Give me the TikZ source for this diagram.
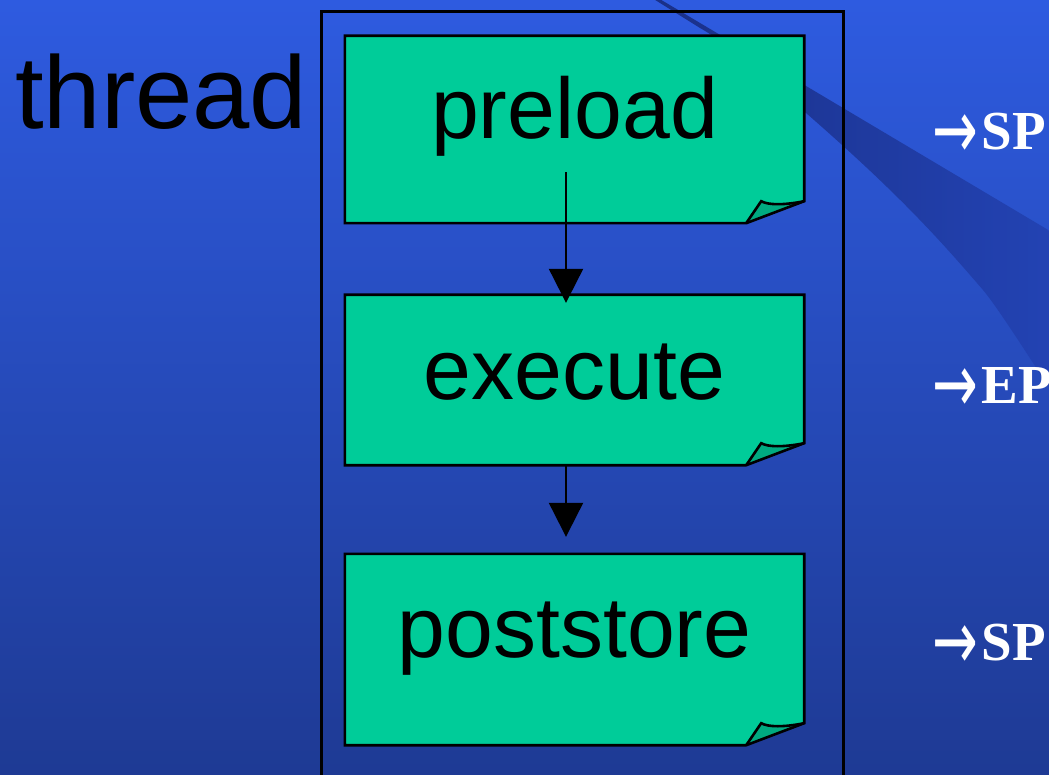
\documentclass[tikz,border=0pt]{standalone}
\usepackage{fontspec}
\setmainfont{Liberation Sans}
\newfontfamily\lserif{Liberation Serif}
\newfontfamily\dejavu{DejaVu Sans}
\usetikzlibrary{arrows.meta,calc}
\definecolor{bgtop}{HTML}{2E5BE0}
\definecolor{bgbot}{HTML}{1E3A94}
\definecolor{note}{HTML}{00CC99}
\definecolor{flap}{HTML}{00AA80}
\definecolor{swA}{HTML}{1A3088}
\definecolor{swB}{HTML}{2343B4}
\pgfdeclarelayer{back}
\pgfdeclarelayer{mid}
\pgfsetlayers{back,mid,main}
\newcommand\dogearbox[1]{%
  \begin{pgfonlayer}{mid}
  \fill[note] (#1.north west) -- (#1.north east) -- ([yshift=22pt]#1.south east)
     -- ([xshift=-58pt]#1.south east) -- (#1.south west) -- cycle;
  \fill[flap] ([xshift=-58pt]#1.south east) -- ([xshift=-43pt,yshift=22pt]#1.south east)
     .. controls ([xshift=-36pt,yshift=18pt]#1.south east) and ([xshift=-20pt,yshift=18pt]#1.south east)
     .. ([yshift=22pt]#1.south east) -- cycle;
  \draw[boxline] (#1.north west) -- (#1.north east) -- ([yshift=22pt]#1.south east)
     -- ([xshift=-58pt]#1.south east) -- (#1.south west) -- cycle;
  \draw[boxline] ([xshift=-58pt]#1.south east) -- ([xshift=-43pt,yshift=22pt]#1.south east)
     .. controls ([xshift=-36pt,yshift=18pt]#1.south east) and ([xshift=-20pt,yshift=18pt]#1.south east)
     .. ([yshift=22pt]#1.south east);
  \end{pgfonlayer}}
\newcommand\sidearrow{\raisebox{-9pt}{\scalebox{1.05}[1.6]{\dejavu\mdseries\fontsize{52}{60}\selectfont →}}\hspace{4pt}}
\begin{document}
\begin{tikzpicture}[x=1pt,y=-1pt,
  boxline/.style={line width=2.6pt, line join=miter},
  stepbox/.style={minimum width=459pt, inner sep=0pt, font=\fontsize{86}{100}\selectfont, text height=60pt},
  arr/.style={line width=2.2pt, -{Triangle[width=34pt,length=34pt]}},
  side/.style={anchor=base west, inner sep=0pt, text=white, font=\lserif\bfseries\fontsize{55}{60}\selectfont}]
\useasboundingbox (0,0) rectangle (1049,775);
\begin{pgfonlayer}{back}
  \clip (0,0) rectangle (1049,775);
  \shade[top color=bgtop, bottom color=bgbot] (0,0) rectangle (1049,775);
  \shade[left color=swA, right color=swB] (658,-2) -- (1060,237) -- (1060,405)
     .. controls (1049,388) and (1000,310) .. (983,290)
     .. controls (940,240) and (900,195) .. (806,113)
     .. controls (770,80) and (730,45) .. (700,28) -- (652,-2) -- cycle;
\end{pgfonlayer}
\node[draw, line width=2.6pt, minimum width=522pt, minimum height=820pt, anchor=north west, inner sep=0pt] (frame) at (320,10) {};
\node[stepbox, minimum height=187pt, text depth=41pt] (preload) at (574.5,129.5) {preload};
\node[stepbox, minimum height=170pt, text depth=22pt] (execute) at (574.5,380) {execute};
\node[stepbox, minimum height=191pt, text depth=45pt] (poststore) at (574.5,649.5) {poststore};
\dogearbox{preload}
\dogearbox{execute}
\dogearbox{poststore}
\draw[arr] ([xshift=-8.5pt,yshift=51pt]preload.south) -- ([xshift=-8.5pt,yshift=-8pt]execute.north);
\draw[arr] ([xshift=-8.5pt]execute.south) -- ([xshift=-8.5pt,yshift=17pt]poststore.north);
\node[anchor=base west, inner sep=0pt, font=\fontsize{103}{120}\selectfont] (thread) at (15,129) {thread};
\node[side] (sp1) at (932,150) {\sidearrow SP};
\node[side] (ep) at (932,403) {\sidearrow EP};
\node[side] (sp2) at (932,660) {\sidearrow SP};
\end{tikzpicture}
\end{document}
